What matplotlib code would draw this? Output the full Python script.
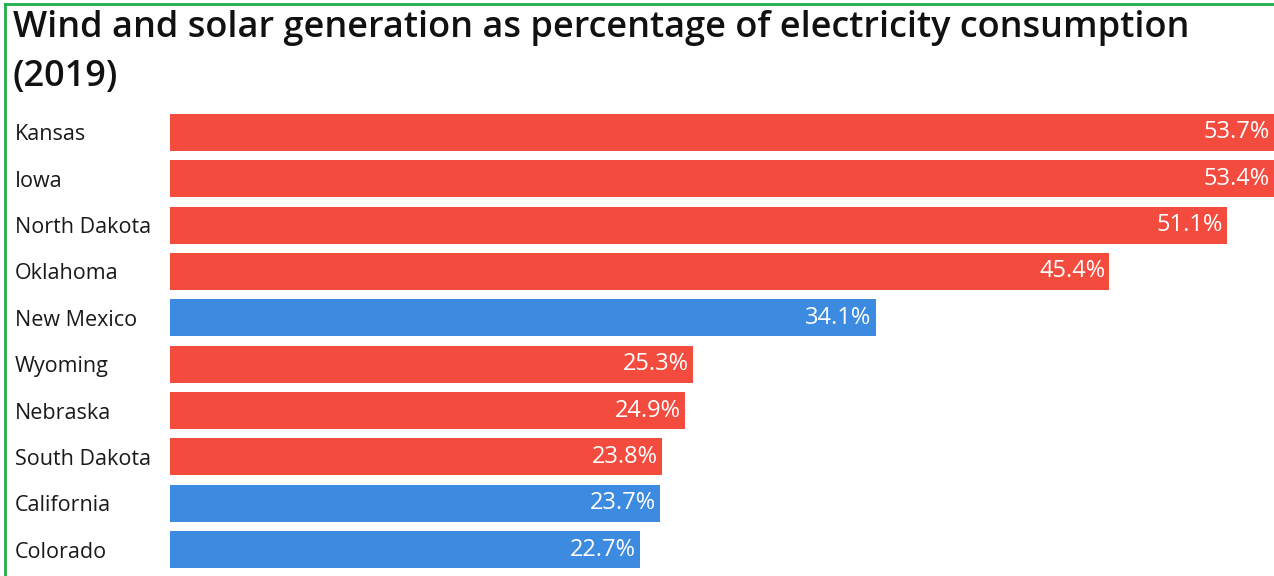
import matplotlib.pyplot as plt
import matplotlib.lines as mlines

# Data
states = ['Kansas', 'Iowa', 'North Dakota', 'Oklahoma', 'New Mexico',
          'Wyoming', 'Nebraska', 'South Dakota', 'California', 'Colorado']
share = [53.7, 53.4, 51.1, 45.4, 34.1, 25.3, 24.9, 23.8, 23.7, 22.7]
group = ['r', 'r', 'r', 'r', 'b', 'r', 'r', 'r', 'b', 'b']
title = 'Wind and solar generation as percentage of electricity consumption\n(2019)'

RED = '#f44b3f'
BLUE = '#3d8be0'
FONT = ['Open Sans', 'DejaVu Sans']

W, H = 1274, 576
fig = plt.figure(figsize=(W / 100, H / 100), dpi=100)
ax = fig.add_axes([170 / W, 1 - 572.7 / H, (W - 170) / W, (572.7 - 109.3) / H])

colors = [RED if g == 'r' else BLUE for g in group]
ypos = list(range(len(states)))
bars = ax.barh(ypos, share, height=0.8, color=colors, edgecolor='none')

ax.set_xlim(0, 53.36)
ax.set_ylim(len(states) - 0.5, -0.5)
ax.set_xticks([])
ax.set_yticks(ypos)
ax.set_yticklabels(states, ha='left', family=FONT, fontsize=15.5, color='#1a1a1a')
ax.tick_params(axis='y', length=0, pad=155 * 72 / 100)
for s in ax.spines.values():
    s.set_visible(False)

for b, v in zip(bars, share):
    ax.text(min(v, 53.36) - 0.2, b.get_y() + b.get_height() / 2, f'{v}%',
            ha='right', va='center', color='white', fontsize=17, family=FONT)

fig.text(13 / W, 1 - 10 / H, title, ha='left', va='top', fontsize=26,
         fontweight='semibold', family=FONT, color='#111111', linespacing=1.5)

# green frame
fig.add_artist(mlines.Line2D([4.5 / W, 4.5 / W], [0, 1 - 3.5 / H], color='#1fae4b', lw=2))
fig.add_artist(mlines.Line2D([4.5 / W, 1], [1 - 3.5 / H, 1 - 3.5 / H], color='#1fae4b', lw=2))

fig.savefig('out.png', dpi=100)
